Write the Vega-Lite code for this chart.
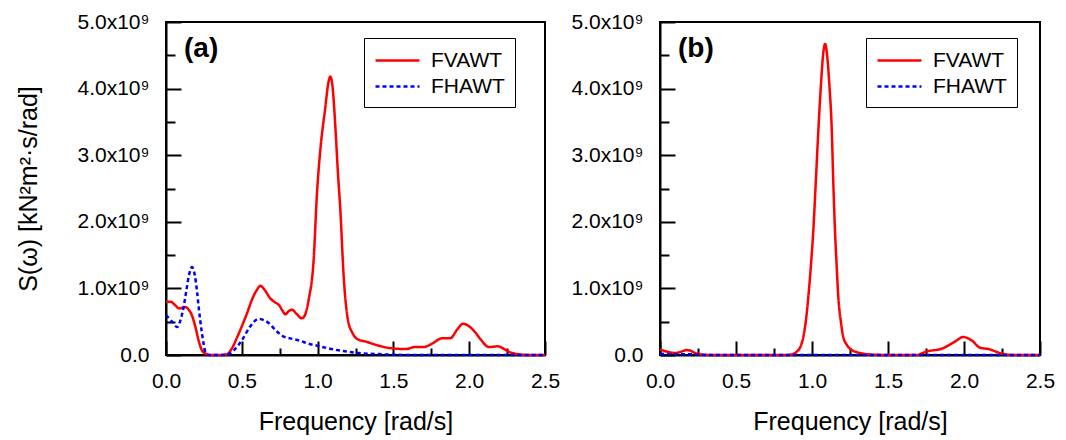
{
  "$schema": "https://vega.github.io/schema/vega-lite/v6.json",
  "background": "white",
  "padding": {"left": 15, "top": 10, "right": 5, "bottom": 5},
  "spacing": 8,
  "config": {
    "font": "Liberation Sans",
    "view": {"stroke": "black", "strokeWidth": 2},
    "axis": {
      "domainColor": "black", "domainWidth": 2, "tickColor": "black", "tickWidth": 2,
      "grid": false, "labelColor": "black", "titleColor": "black", "labelFlush": false,
      "labelFont": "Liberation Sans", "titleFont": "Liberation Sans",
      "labelFontSize": 21, "titleFontSize": 25, "titleFontWeight": "normal"
    },
    "legend": {
      "strokeColor": "black", "fillColor": "white", "padding": 10, "cornerRadius": 0,
      "labelFont": "Liberation Sans", "labelFontSize": 21, "labelColor": "black",
      "labelOffset": 32, "rowPadding": 3, "symbolSize": 484, "symbolStrokeWidth": 2.5,
      "symbolType": "M-1,0H3"
    },
    "title": {"font": "Liberation Sans", "fontSize": 28, "fontWeight": "bold", "color": "black"}
  },
  "datasets": {
    "a": [
      {"series": "FVAWT", "f": 0, "v": 0.80e9},
      {"series": "FVAWT", "f": 0.03, "v": 0.80e9},
      {"series": "FVAWT", "f": 0.06, "v": 0.75e9},
      {"series": "FVAWT", "f": 0.085, "v": 0.70e9},
      {"series": "FVAWT", "f": 0.11, "v": 0.71e9},
      {"series": "FVAWT", "f": 0.128, "v": 0.72e9},
      {"series": "FVAWT", "f": 0.15, "v": 0.68e9},
      {"series": "FVAWT", "f": 0.17, "v": 0.60e9},
      {"series": "FVAWT", "f": 0.193, "v": 0.43e9},
      {"series": "FVAWT", "f": 0.215, "v": 0.22e9},
      {"series": "FVAWT", "f": 0.235, "v": 0.08e9},
      {"series": "FVAWT", "f": 0.26, "v": 0.02e9},
      {"series": "FVAWT", "f": 0.29, "v": 0},
      {"series": "FVAWT", "f": 0.35, "v": 0},
      {"series": "FVAWT", "f": 0.40, "v": 0.01e9},
      {"series": "FVAWT", "f": 0.435, "v": 0.10e9},
      {"series": "FVAWT", "f": 0.47, "v": 0.27e9},
      {"series": "FVAWT", "f": 0.50, "v": 0.43e9},
      {"series": "FVAWT", "f": 0.535, "v": 0.63e9},
      {"series": "FVAWT", "f": 0.567, "v": 0.83e9},
      {"series": "FVAWT", "f": 0.60, "v": 0.98e9},
      {"series": "FVAWT", "f": 0.622, "v": 1.04e9},
      {"series": "FVAWT", "f": 0.65, "v": 0.98e9},
      {"series": "FVAWT", "f": 0.688, "v": 0.85e9},
      {"series": "FVAWT", "f": 0.72, "v": 0.79e9},
      {"series": "FVAWT", "f": 0.745, "v": 0.75e9},
      {"series": "FVAWT", "f": 0.77, "v": 0.66e9},
      {"series": "FVAWT", "f": 0.787, "v": 0.61e9},
      {"series": "FVAWT", "f": 0.81, "v": 0.66e9},
      {"series": "FVAWT", "f": 0.831, "v": 0.68e9},
      {"series": "FVAWT", "f": 0.86, "v": 0.62e9},
      {"series": "FVAWT", "f": 0.897, "v": 0.55e9},
      {"series": "FVAWT", "f": 0.92, "v": 0.62e9},
      {"series": "FVAWT", "f": 0.941, "v": 0.83e9},
      {"series": "FVAWT", "f": 0.974, "v": 1.43e9},
      {"series": "FVAWT", "f": 0.996, "v": 2.43e9},
      {"series": "FVAWT", "f": 1.018, "v": 3.08e9},
      {"series": "FVAWT", "f": 1.05, "v": 3.7e9},
      {"series": "FVAWT", "f": 1.072, "v": 4.1e9},
      {"series": "FVAWT", "f": 1.084, "v": 4.18e9},
      {"series": "FVAWT", "f": 1.10, "v": 4.0e9},
      {"series": "FVAWT", "f": 1.117, "v": 3.43e9},
      {"series": "FVAWT", "f": 1.135, "v": 2.7e9},
      {"series": "FVAWT", "f": 1.15, "v": 2.18e9},
      {"series": "FVAWT", "f": 1.172, "v": 1.18e9},
      {"series": "FVAWT", "f": 1.2, "v": 0.53e9},
      {"series": "FVAWT", "f": 1.23, "v": 0.33e9},
      {"series": "FVAWT", "f": 1.27, "v": 0.23e9},
      {"series": "FVAWT", "f": 1.32, "v": 0.20e9},
      {"series": "FVAWT", "f": 1.36, "v": 0.17e9},
      {"series": "FVAWT", "f": 1.42, "v": 0.13e9},
      {"series": "FVAWT", "f": 1.49, "v": 0.10e9},
      {"series": "FVAWT", "f": 1.58, "v": 0.09e9},
      {"series": "FVAWT", "f": 1.645, "v": 0.12e9},
      {"series": "FVAWT", "f": 1.70, "v": 0.12e9},
      {"series": "FVAWT", "f": 1.755, "v": 0.17e9},
      {"series": "FVAWT", "f": 1.82, "v": 0.25e9},
      {"series": "FVAWT", "f": 1.875, "v": 0.25e9},
      {"series": "FVAWT", "f": 1.92, "v": 0.38e9},
      {"series": "FVAWT", "f": 1.96, "v": 0.47e9},
      {"series": "FVAWT", "f": 2.0, "v": 0.43e9},
      {"series": "FVAWT", "f": 2.04, "v": 0.34e9},
      {"series": "FVAWT", "f": 2.08, "v": 0.22e9},
      {"series": "FVAWT", "f": 2.13, "v": 0.12e9},
      {"series": "FVAWT", "f": 2.19, "v": 0.13e9},
      {"series": "FVAWT", "f": 2.23, "v": 0.09e9},
      {"series": "FVAWT", "f": 2.26, "v": 0.05e9},
      {"series": "FVAWT", "f": 2.33, "v": 0.01e9},
      {"series": "FVAWT", "f": 2.4, "v": 0},
      {"series": "FVAWT", "f": 2.5, "v": 0},
      {"series": "FHAWT", "f": 0, "v": 0.60e9},
      {"series": "FHAWT", "f": 0.04, "v": 0.50e9},
      {"series": "FHAWT", "f": 0.073, "v": 0.42e9},
      {"series": "FHAWT", "f": 0.095, "v": 0.52e9},
      {"series": "FHAWT", "f": 0.117, "v": 0.73e9},
      {"series": "FHAWT", "f": 0.135, "v": 0.98e9},
      {"series": "FHAWT", "f": 0.15, "v": 1.18e9},
      {"series": "FHAWT", "f": 0.171, "v": 1.32e9},
      {"series": "FHAWT", "f": 0.19, "v": 1.2e9},
      {"series": "FHAWT", "f": 0.205, "v": 0.95e9},
      {"series": "FHAWT", "f": 0.215, "v": 0.73e9},
      {"series": "FHAWT", "f": 0.237, "v": 0.33e9},
      {"series": "FHAWT", "f": 0.26, "v": 0.05e9},
      {"series": "FHAWT", "f": 0.28, "v": 0},
      {"series": "FHAWT", "f": 0.39, "v": 0},
      {"series": "FHAWT", "f": 0.447, "v": 0.07e9},
      {"series": "FHAWT", "f": 0.50, "v": 0.22e9},
      {"series": "FHAWT", "f": 0.556, "v": 0.43e9},
      {"series": "FHAWT", "f": 0.611, "v": 0.54e9},
      {"series": "FHAWT", "f": 0.677, "v": 0.48e9},
      {"series": "FHAWT", "f": 0.72, "v": 0.38e9},
      {"series": "FHAWT", "f": 0.765, "v": 0.29e9},
      {"series": "FHAWT", "f": 0.82, "v": 0.25e9},
      {"series": "FHAWT", "f": 0.875, "v": 0.22e9},
      {"series": "FHAWT", "f": 0.94, "v": 0.17e9},
      {"series": "FHAWT", "f": 1.007, "v": 0.135e9},
      {"series": "FHAWT", "f": 1.07, "v": 0.10e9},
      {"series": "FHAWT", "f": 1.139, "v": 0.07e9},
      {"series": "FHAWT", "f": 1.2, "v": 0.05e9},
      {"series": "FHAWT", "f": 1.27, "v": 0.03e9},
      {"series": "FHAWT", "f": 1.38, "v": 0.015e9},
      {"series": "FHAWT", "f": 1.49, "v": 0.005e9},
      {"series": "FHAWT", "f": 1.6, "v": 0},
      {"series": "FHAWT", "f": 2.5, "v": 0}
    ],
    "b": [
      {"series": "FVAWT", "f": 0, "v": 0.085e9},
      {"series": "FVAWT", "f": 0.046, "v": 0.05e9},
      {"series": "FVAWT", "f": 0.1, "v": 0.03e9},
      {"series": "FVAWT", "f": 0.14, "v": 0.05e9},
      {"series": "FVAWT", "f": 0.175, "v": 0.075e9},
      {"series": "FVAWT", "f": 0.2, "v": 0.065e9},
      {"series": "FVAWT", "f": 0.23, "v": 0.03e9},
      {"series": "FVAWT", "f": 0.29, "v": 0.005e9},
      {"series": "FVAWT", "f": 0.35, "v": 0},
      {"series": "FVAWT", "f": 0.84, "v": 0},
      {"series": "FVAWT", "f": 0.88, "v": 0.02e9},
      {"series": "FVAWT", "f": 0.90, "v": 0.05e9},
      {"series": "FVAWT", "f": 0.925, "v": 0.13e9},
      {"series": "FVAWT", "f": 0.943, "v": 0.27e9},
      {"series": "FVAWT", "f": 0.96, "v": 0.52e9},
      {"series": "FVAWT", "f": 0.976, "v": 0.875e9},
      {"series": "FVAWT", "f": 0.993, "v": 1.35e9},
      {"series": "FVAWT", "f": 1.009, "v": 1.88e9},
      {"series": "FVAWT", "f": 1.025, "v": 2.6e9},
      {"series": "FVAWT", "f": 1.042, "v": 3.38e9},
      {"series": "FVAWT", "f": 1.06, "v": 4.1e9},
      {"series": "FVAWT", "f": 1.075, "v": 4.55e9},
      {"series": "FVAWT", "f": 1.086, "v": 4.67e9},
      {"series": "FVAWT", "f": 1.097, "v": 4.55e9},
      {"series": "FVAWT", "f": 1.113, "v": 4.1e9},
      {"series": "FVAWT", "f": 1.13, "v": 3.38e9},
      {"series": "FVAWT", "f": 1.14, "v": 2.6e9},
      {"series": "FVAWT", "f": 1.151, "v": 1.88e9},
      {"series": "FVAWT", "f": 1.162, "v": 1.35e9},
      {"series": "FVAWT", "f": 1.173, "v": 0.875e9},
      {"series": "FVAWT", "f": 1.19, "v": 0.5e9},
      {"series": "FVAWT", "f": 1.206, "v": 0.27e9},
      {"series": "FVAWT", "f": 1.23, "v": 0.15e9},
      {"series": "FVAWT", "f": 1.261, "v": 0.075e9},
      {"series": "FVAWT", "f": 1.30, "v": 0.04e9},
      {"series": "FVAWT", "f": 1.34, "v": 0.02e9},
      {"series": "FVAWT", "f": 1.40, "v": 0.005e9},
      {"series": "FVAWT", "f": 1.50, "v": 0},
      {"series": "FVAWT", "f": 1.69, "v": 0},
      {"series": "FVAWT", "f": 1.75, "v": 0.05e9},
      {"series": "FVAWT", "f": 1.86, "v": 0.10e9},
      {"series": "FVAWT", "f": 1.94, "v": 0.20e9},
      {"series": "FVAWT", "f": 1.995, "v": 0.27e9},
      {"series": "FVAWT", "f": 2.05, "v": 0.22e9},
      {"series": "FVAWT", "f": 2.105, "v": 0.11e9},
      {"series": "FVAWT", "f": 2.17, "v": 0.085e9},
      {"series": "FVAWT", "f": 2.21, "v": 0.05e9},
      {"series": "FVAWT", "f": 2.26, "v": 0.015e9},
      {"series": "FVAWT", "f": 2.32, "v": 0},
      {"series": "FVAWT", "f": 2.5, "v": 0},
      {"series": "FHAWT", "f": 0, "v": 0.02e9},
      {"series": "FHAWT", "f": 0.1, "v": 0.01e9},
      {"series": "FHAWT", "f": 0.2, "v": 0.01e9},
      {"series": "FHAWT", "f": 0.3, "v": 0},
      {"series": "FHAWT", "f": 2.5, "v": 0}
    ]
  },
  "hconcat": [
    {
      "width": 379, "height": 333,
      "data": {"name": "a"},
      "title": {"text": "(a)", "anchor": "start", "frame": "group", "dx": 18, "offset": -52, "baseline": "top"},
      "layer": [
        {
          "mark": {"type": "line", "strokeWidth": 2.5, "interpolate": "monotone"},
          "encoding": {
            "x": {"field": "f", "type": "quantitative", "scale": {"domain": [0, 2.5], "nice": false},
              "axis": {"values": [0, 0.5, 1, 1.5, 2, 2.5], "format": ".1f", "tickSize": -14, "labelPadding": 29, "title": "Frequency [rad/s]", "titlePadding": 18}},
            "y": {"field": "v", "type": "quantitative", "scale": {"domain": [0, 5e9], "nice": false},
              "axis": {"values": [0, 1e9, 2e9, 3e9, 4e9, 5e9], "labelExpr": "datum.value == 0 ? '0.0' : format(datum.value / 1e9, '.1f') + 'x10⁹'", "tickSize": -15, "labelPadding": 32, "title": "S(ω) [kN²m²·s/rad]", "titlePadding": 35}},
            "color": {"field": "series", "type": "nominal", "scale": {"domain": ["FVAWT", "FHAWT"], "range": ["#ff0000", "#0000ff"]},
              "legend": {"title": null, "orient": "none", "legendX": 198, "legendY": 16}},
            "strokeDash": {"field": "series", "type": "nominal", "scale": {"domain": ["FVAWT", "FHAWT"], "range": [[1, 0], [4, 3]]},
              "legend": {"title": null, "orient": "none", "legendX": 198, "legendY": 16}}
          }
        },
        {
          "mark": {"type": "point", "opacity": 0},
          "encoding": {
            "x": {"datum": 0, "type": "quantitative", "axis": {"orient": "bottom", "values": [0.25, 0.75, 1.25, 1.75, 2.25], "labels": false, "domain": false, "tickSize": -7, "title": null}},
            "y": {"datum": 0, "type": "quantitative", "axis": {"orient": "left", "values": [0.5e9, 1.5e9, 2.5e9, 3.5e9, 4.5e9], "labels": false, "domain": false, "tickSize": -9, "title": null}}
          }
        }
      ],
      "resolve": {"axis": {"x": "independent", "y": "independent"}}
    },
    {
      "width": 380, "height": 333,
      "data": {"name": "b"},
      "title": {"text": "(b)", "anchor": "start", "frame": "group", "dx": 18, "offset": -52, "baseline": "top"},
      "layer": [
        {
          "mark": {"type": "line", "strokeWidth": 2.5, "interpolate": "monotone"},
          "encoding": {
            "x": {"field": "f", "type": "quantitative", "scale": {"domain": [0, 2.5], "nice": false},
              "axis": {"values": [0, 0.5, 1, 1.5, 2, 2.5], "format": ".1f", "tickSize": -14, "labelPadding": 29, "title": "Frequency [rad/s]", "titlePadding": 18}},
            "y": {"field": "v", "type": "quantitative", "scale": {"domain": [0, 5e9], "nice": false},
              "axis": {"values": [0, 1e9, 2e9, 3e9, 4e9, 5e9], "labelExpr": "datum.value == 0 ? '0.0' : format(datum.value / 1e9, '.1f') + 'x10⁹'", "tickSize": -15, "labelPadding": 32, "title": null}},
            "color": {"field": "series", "type": "nominal", "scale": {"domain": ["FVAWT", "FHAWT"], "range": ["#ff0000", "#0000ff"]},
              "legend": {"title": null, "orient": "none", "legendX": 206, "legendY": 16}},
            "strokeDash": {"field": "series", "type": "nominal", "scale": {"domain": ["FVAWT", "FHAWT"], "range": [[1, 0], [4, 3]]},
              "legend": {"title": null, "orient": "none", "legendX": 206, "legendY": 16}}
          }
        },
        {
          "mark": {"type": "point", "opacity": 0},
          "encoding": {
            "x": {"datum": 0, "type": "quantitative", "axis": {"orient": "bottom", "values": [0.25, 0.75, 1.25, 1.75, 2.25], "labels": false, "domain": false, "tickSize": -7, "title": null}},
            "y": {"datum": 0, "type": "quantitative", "axis": {"orient": "left", "values": [0.5e9, 1.5e9, 2.5e9, 3.5e9, 4.5e9], "labels": false, "domain": false, "tickSize": -9, "title": null}}
          }
        }
      ],
      "resolve": {"axis": {"x": "independent", "y": "independent"}}
    }
  ],
  "resolve": {"legend": {"color": "independent", "strokeDash": "independent"}}
}
